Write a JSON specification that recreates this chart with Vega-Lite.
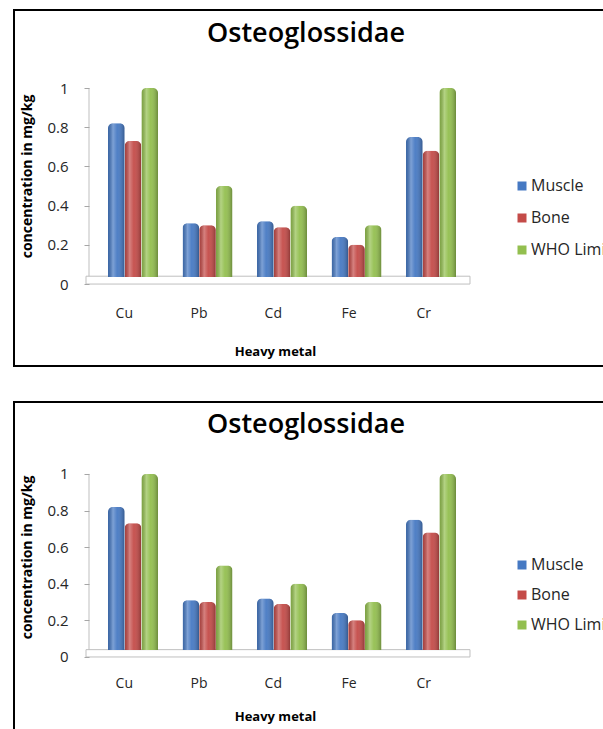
{
  "$schema": "https://vega.github.io/schema/vega-lite/v6.json",
  "background": "#ffffff",
  "padding": {"left": 13, "top": 9, "right": 0, "bottom": 0},
  "config": {
    "view": {"stroke": "#000000", "strokeWidth": 2},
    "font": "Open Sans"
  },
  "resolve": {"scale": {"color": "independent"}, "legend": {"color": "independent"}},
  "datasets": {
    "metals": [
      {"metal": "Cu", "tissue": "Muscle", "value": 0.82},
      {"metal": "Cu", "tissue": "Bone", "value": 0.73},
      {"metal": "Cu", "tissue": "WHO Limit", "value": 1.0},
      {"metal": "Pb", "tissue": "Muscle", "value": 0.31},
      {"metal": "Pb", "tissue": "Bone", "value": 0.30},
      {"metal": "Pb", "tissue": "WHO Limit", "value": 0.5},
      {"metal": "Cd", "tissue": "Muscle", "value": 0.32},
      {"metal": "Cd", "tissue": "Bone", "value": 0.29},
      {"metal": "Cd", "tissue": "WHO Limit", "value": 0.4},
      {"metal": "Fe", "tissue": "Muscle", "value": 0.24},
      {"metal": "Fe", "tissue": "Bone", "value": 0.20},
      {"metal": "Fe", "tissue": "WHO Limit", "value": 0.3},
      {"metal": "Cr", "tissue": "Muscle", "value": 0.75},
      {"metal": "Cr", "tissue": "Bone", "value": 0.68},
      {"metal": "Cr", "tissue": "WHO Limit", "value": 1.0}
    ],
    "one": [{"item": 1}]
  },
  "spacing": 34,
  "vconcat": [
    {
      "width": 600,
      "height": 356,
      "title": {"text": "Osteoglossidae", "font": "Open Sans", "fontSize": 27, "fontWeight": 600, "color": "#000000", "offset": -59, "dx": -8, "baseline": "alphabetic"},
      "layer": [
        {
          "data": {"name": "one"},
          "mark": {"type": "rect", "fill": "#ffffff", "stroke": "#bfbfbf", "strokeWidth": 1},
          "encoding": {
            "x": {"datum": "Cu", "bandPosition": -0.44},
            "x2": {"datum": "Cr", "bandPosition": 1.28},
            "y": {"datum": 0},
            "y2": {"datum": 0.04}
          }
        },
        {
          "data": {"name": "one"},
          "mark": {"type": "rule", "color": "#bfbfbf", "strokeWidth": 1},
          "encoding": {
            "x": {"datum": "Cu", "bandPosition": -0.38},
            "y": {"datum": 0.04},
            "y2": {"datum": 1}
          }
        },
        {
          "data": {"name": "metals"},
          "mark": {"type": "bar", "cornerRadiusTopLeft": 5, "cornerRadiusTopRight": 5, "yOffset": -7, "y2Offset": -4},
          "encoding": {
            "x": {
              "field": "metal", "type": "nominal",
              "scale": {"domain": ["Cu", "Pb", "Cd", "Fe", "Cr"], "range": [19.5, 516.5], "paddingInner": 0.329, "paddingOuter": 1, "align": 0.5},
              "axis": {"title": "Heavy metal", "orient": "bottom", "offset": -59, "zindex": 1, "domain": false, "ticks": false, "grid": false, "labelPadding": 6, "labelOffset": 0, "labelAngle": 0, "labelFont": "Open Sans", "labelFontSize": 14, "labelColor": "#262626", "titleFont": "Open Sans", "titleFontSize": 13, "titleFontWeight": "bold", "titleColor": "#000000", "titleX": 261, "titleY": 48, "titleBaseline": "alphabetic"}
            },
            "xOffset": {"field": "tissue", "type": "nominal", "scale": {"domain": ["Muscle", "Bone", "WHO Limit"]}},
            "y": {
              "field": "value", "type": "quantitative",
              "scale": {"domain": [-0.418, 1.398], "nice": false, "zero": false},
              "axis": {"title": "concentration in mg/kg", "values": [0, 0.2, 0.4, 0.6, 0.8, 1], "format": "~g", "offset": -75, "zindex": 1, "domain": false, "grid": false, "ticks": true, "tickSize": 5, "tickColor": "#a6a6a6", "labelPadding": 16, "labelFont": "Open Sans", "labelFontSize": 15, "labelColor": "#262626", "titleFont": "Open Sans", "titleFontSize": 14, "titleFontWeight": "bold", "titleColor": "#000000", "titleX": -62, "titleY": 166, "titleBaseline": "middle"}
            },
            "color": {
              "field": "tissue", "type": "nominal",
              "scale": {"domain": ["Muscle", "Bone", "WHO Limit"], "range": ["#4679c3", "#c44b48", "#93bf4f"]},
              "legend": {"orient": "none", "legendX": 500, "legendY": 168, "title": null, "symbolType": "square", "symbolSize": 81, "symbolStrokeWidth": 0, "labelFont": "Open Sans", "labelFontSize": 16, "labelColor": "#262626", "labelOffset": 1, "rowPadding": 16, "padding": 0}
            }
          }
        },
        {
          "data": {"name": "metals"},
          "mark": {"type": "bar", "cornerRadiusTopLeft": 5, "cornerRadiusTopRight": 5, "yOffset": -7, "y2Offset": -4, "fill": {"gradient": "linear", "x1": 0, "y1": 0, "x2": 1, "y2": 0, "stops": [{"offset": 0, "color": "rgba(0,0,0,0.15)"}, {"offset": 0.3, "color": "rgba(255,255,255,0.3)"}, {"offset": 0.55, "color": "rgba(255,255,255,0.05)"}, {"offset": 1, "color": "rgba(0,0,0,0.28)"}]}},
          "encoding": {
            "x": {"field": "metal", "type": "nominal"},
            "xOffset": {"field": "tissue", "type": "nominal"},
            "y": {"field": "value", "type": "quantitative"}
          }
        }
      ]
    },
    {
      "width": 600,
      "height": 341,
      "title": {"text": "Osteoglossidae", "font": "Open Sans", "fontSize": 27, "fontWeight": 600, "color": "#000000", "offset": -58, "dx": -8, "baseline": "alphabetic"},
      "layer": [
        {
          "data": {"name": "one"},
          "mark": {"type": "rect", "fill": "#ffffff", "stroke": "#bfbfbf", "strokeWidth": 1},
          "encoding": {
            "x": {"datum": "Cu", "bandPosition": -0.44},
            "x2": {"datum": "Cr", "bandPosition": 1.28},
            "y": {"datum": 0},
            "y2": {"datum": 0.04}
          }
        },
        {
          "data": {"name": "one"},
          "mark": {"type": "rule", "color": "#bfbfbf", "strokeWidth": 1},
          "encoding": {
            "x": {"datum": "Cu", "bandPosition": -0.38},
            "y": {"datum": 0.04},
            "y2": {"datum": 1}
          }
        },
        {
          "data": {"name": "metals"},
          "mark": {"type": "bar", "cornerRadiusTopLeft": 5, "cornerRadiusTopRight": 5, "yOffset": -7, "y2Offset": -4},
          "encoding": {
            "x": {
              "field": "metal", "type": "nominal",
              "scale": {"domain": ["Cu", "Pb", "Cd", "Fe", "Cr"], "range": [19.5, 516.5], "paddingInner": 0.329, "paddingOuter": 1, "align": 0.5},
              "axis": {"title": "Heavy metal", "orient": "bottom", "offset": -66, "zindex": 1, "domain": false, "ticks": false, "grid": false, "labelPadding": 6, "labelOffset": 0, "labelAngle": 0, "labelFont": "Open Sans", "labelFontSize": 14, "labelColor": "#262626", "titleFont": "Open Sans", "titleFontSize": 13, "titleFontWeight": "bold", "titleColor": "#000000", "titleX": 261, "titleY": 43, "titleBaseline": "alphabetic"}
            },
            "xOffset": {"field": "tissue", "type": "nominal", "scale": {"domain": ["Muscle", "Bone", "WHO Limit"]}},
            "y": {
              "field": "value", "type": "quantitative",
              "scale": {"domain": [-0.47, 1.393], "nice": false, "zero": false},
              "axis": {"title": "concentration in mg/kg", "values": [0, 0.2, 0.4, 0.6, 0.8, 1], "format": "~g", "offset": -75, "zindex": 1, "domain": false, "grid": false, "ticks": true, "tickSize": 5, "tickColor": "#a6a6a6", "labelPadding": 16, "labelFont": "Open Sans", "labelFontSize": 15, "labelColor": "#262626", "titleFont": "Open Sans", "titleFontSize": 14, "titleFontWeight": "bold", "titleColor": "#000000", "titleX": -62, "titleY": 155, "titleBaseline": "middle"}
            },
            "color": {
              "field": "tissue", "type": "nominal",
              "scale": {"domain": ["Muscle", "Bone", "WHO Limit"], "range": ["#4679c3", "#c44b48", "#93bf4f"]},
              "legend": {"orient": "none", "legendX": 500, "legendY": 155, "title": null, "symbolType": "square", "symbolSize": 81, "symbolStrokeWidth": 0, "labelFont": "Open Sans", "labelFontSize": 16, "labelColor": "#262626", "labelOffset": 1, "rowPadding": 14, "padding": 0}
            }
          }
        },
        {
          "data": {"name": "metals"},
          "mark": {"type": "bar", "cornerRadiusTopLeft": 5, "cornerRadiusTopRight": 5, "yOffset": -7, "y2Offset": -4, "fill": {"gradient": "linear", "x1": 0, "y1": 0, "x2": 1, "y2": 0, "stops": [{"offset": 0, "color": "rgba(0,0,0,0.15)"}, {"offset": 0.3, "color": "rgba(255,255,255,0.3)"}, {"offset": 0.55, "color": "rgba(255,255,255,0.05)"}, {"offset": 1, "color": "rgba(0,0,0,0.28)"}]}},
          "encoding": {
            "x": {"field": "metal", "type": "nominal"},
            "xOffset": {"field": "tissue", "type": "nominal"},
            "y": {"field": "value", "type": "quantitative"}
          }
        }
      ]
    }
  ]
}
